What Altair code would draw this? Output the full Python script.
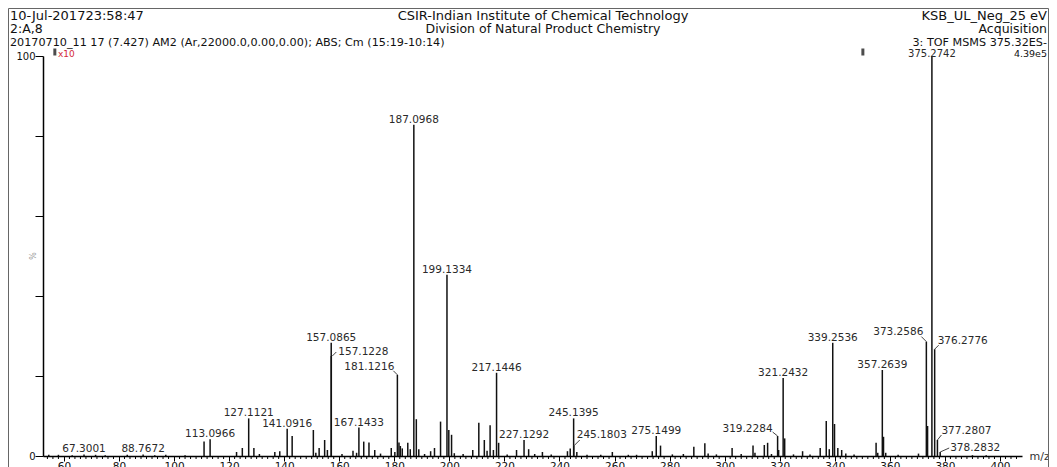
import altair as alt
import pandas as pd

# ---------------- data ----------------
LABELED_MZ = [67.3001, 88.7672, 113.0966, 127.1121, 141.0916, 157.0865, 157.1228, 167.1433,
              181.1216, 187.0968, 199.1334, 217.1446, 227.1292, 245.1395, 245.1803, 275.1499,
              319.2284, 321.2432, 339.2536, 357.2639, 373.2586, 375.2742, 376.2776, 377.2807,
              378.2832]
LABELED_INT = [0.4, 0.4, 4.2, 9.4, 6.8, 28.3, 25.0, 7.1,
               20.3, 82.8, 45.3, 20.8, 4.0, 9.4, 2.5, 5.0,
               5.0, 19.5, 28.3, 21.5, 28.6, 100.0, 26.7, 4.0,
               1.0]
LABEL_TEXT = ["67.3001", "88.7672", "113.0966", "127.1121", "141.0916", "157.0865", "157.1228",
              "167.1433", "181.1216", "187.0968", "199.1334", "217.1446", "227.1292", "245.1395",
              "245.1803", "275.1499", "319.2284", "321.2432", "339.2536", "357.2639", "373.2586",
              "375.2742", "376.2776", "377.2807", "378.2832"]

MINOR_MZ = [54.5, 58.0, 63.0, 71.5, 75.0, 83.0, 93.0, 97.0, 104.0,
            110.9, 122.7, 124.8, 129.0, 131.0, 136.6, 138.4, 142.9, 150.6, 151.5, 152.7,
            154.7, 155.7, 161.0, 165.0, 166.3, 168.9, 170.8, 172.9, 175.0, 178.9, 180.2,
            181.7, 182.2, 182.9, 184.9, 185.8, 188.0, 188.9, 191.0, 193.2, 194.6, 196.8,
            199.8, 200.8, 201.8, 205.0, 208.5, 210.7, 212.7, 213.7, 214.8, 216.0, 217.9,
            221.0, 224.4, 228.8, 231.0, 233.8, 237.0, 242.9, 243.9, 246.3, 250.0, 255.0,
            259.2, 265.0, 268.0, 273.7, 276.7, 281.0, 285.0, 288.8, 292.8, 294.0, 297.0,
            302.7, 306.0, 310.3, 311.0, 314.4, 315.6, 317.0, 319.6, 321.8, 325.0, 328.3,
            331.0, 334.7, 336.9, 338.0, 339.9, 341.1, 342.5, 344.0, 347.0, 355.0, 355.6,
            357.7, 358.5, 363.0, 370.4, 373.7, 390.0, 395.0]
MINOR_INT = [0.3, 0.3, 0.2, 0.3, 0.2, 0.3, 0.2, 0.3, 0.2,
             3.6, 1.0, 2.0, 2.0, 0.5, 1.0, 1.2, 5.0, 6.5, 0.8, 2.0,
             4.0, 1.5, 0.5, 1.3, 0.8, 3.6, 3.4, 1.5, 0.6, 2.0, 1.0,
             3.4, 2.5, 1.9, 3.3, 1.7, 9.2, 1.7, 0.5, 1.2, 2.0, 8.6,
             6.5, 5.3, 0.7, 0.5, 1.5, 8.3, 4.0, 1.3, 7.7, 1.5, 3.3,
             0.4, 1.5, 1.7, 0.5, 1.0, 0.4, 1.2, 1.9, 1.0, 0.3, 0.3,
             1.0, 0.3, 0.3, 1.2, 2.6, 0.4, 0.5, 2.3, 3.2, 0.6, 0.4,
             2.0, 0.5, 2.6, 0.8, 2.75, 3.3, 0.5, 1.5, 4.4, 0.4, 1.2,
             0.4, 2.0, 8.75, 1.7, 8.0, 2.0, 1.5, 0.6, 0.4, 3.3, 0.8,
             4.8, 0.8, 0.3, 0.6, 7.5, 0.2, 0.2]

MARKER_MZ = [56.7, 350.2]
MARKER_LEVEL = [101.0, 101.0]

X_MAJOR = list(range(60, 401, 20))
X_MINOR = [v for v in range(54, 408, 2) if v % 20 != 0]
Y_TICKS = list(range(0, 101, 10))

HEADER_LEFT = ["10-Jul-201723:58:47", "2:A,8",
               "20170710_11 17 (7.427) AM2 (Ar,22000.0,0.00,0.00); ABS; Cm (15:19-10:14)"]
HEADER_CENTER = ["CSIR-Indian Institute of Chemical Technology",
                 "Division of Natural Product Chemistry"]
HEADER_RIGHT = ["KSB_UL_Neg_25 eV", "Acquisition", "3: TOF MSMS 375.32ES-", "4.39e5"]
MAG_TEXT = "x10"
X_TITLE = "m/z"

# ---------------- styles ----------------
FONT = "DejaVu Sans"
W, H = 979, 400
PAD = {"left": 35, "top": 48, "right": 27, "bottom": 11}
RIGHT_EDGE = W + PAD["right"] - 2  # right-aligned header texts (plot coords)

# labels that use a leader line: align, dx, dy, leader (x0, y0, x1, y1)
LEADER_STYLE = {
    "157.1228": ("left", 7, -4, (1, 0, 5, -4)),
    "181.1216": ("right", -3, -8, (-4, -4, 0, 0)),
    "245.1803": ("left", 3, -11, (0, 0, 6, -6)),
    "319.2284": ("right", -5, -7, (-5, -4, 0, 0)),
    "373.2586": ("right", -3, -10, (-5, -5, 0, 0)),
    "376.2776": ("left", 3, -8, (0, 0, 4, -4)),
    "377.2807": ("left", 4, -9, (0, 0, 4, -5)),
    "378.2832": ("left", 10, -4, (0, 0, 9, -4)),
}
TOP_LABEL = "375.2742"

peaks = pd.DataFrame({
    "mz": LABELED_MZ + MINOR_MZ,
    "intensity": LABELED_INT + MINOR_INT,
})
labels = pd.DataFrame({"mz": LABELED_MZ, "intensity": LABELED_INT, "label": LABEL_TEXT})
markers = pd.DataFrame({"mz": MARKER_MZ, "intensity": MARKER_LEVEL})
minor_ticks = pd.DataFrame({"mz": X_MINOR})

xscale = alt.Scale(domain=[52.4, 408], nice=False, zero=False)
yscale = alt.Scale(domain=[0, 100], nice=False, zero=True)

x_axis = alt.Axis(
    values=X_MAJOR,
    tickSize=5, labelOverlap=False, labelFlush=False, labelBound=False,
    labelFont=FONT, labelFontSize=10.5, labelColor="#111", labelPadding=0,
    labelBaseline="top",
    domainColor="#000", domainWidth=1.5, tickColor="#000", tickWidth=1,
    grid=False,
    title=X_TITLE, titleX=W + 7, titleY=0, titleAlign="left", titleBaseline="middle",
    titleFont=FONT, titleFontSize=11, titleFontWeight="normal", titleColor="#333",
)
y_axis = alt.Axis(
    values=Y_TICKS,
    labelExpr="datum.value == 100 ? '100' : datum.value == 0 ? '0' : ''",
    tickSize=8, labelPadding=0, labelFont=FONT, labelFontSize=10, labelColor="#111",
    domainColor="#000", domainWidth=1.5, tickColor="#000", tickWidth=1,
    grid=False, title=None, labelOverlap=False,
)

X = alt.X("mz:Q", scale=xscale, axis=x_axis)
Y = alt.Y("intensity:Q", scale=yscale, axis=y_axis)

layers = []

# spectrum sticks
layers.append(
    alt.Chart(peaks).mark_rule(color="#111", strokeWidth=1.5).encode(
        x=X, y=Y, y2=alt.datum(0)
    )
)

# minor ticks of the m/z axis
layers.append(
    alt.Chart(minor_ticks).mark_rule(color="#000", strokeWidth=1).encode(
        x="mz:Q", y=alt.value(H), y2=alt.value(H + 3)
    )
)

# default centered labels
plain = labels[~labels["label"].isin(list(LEADER_STYLE.keys()) + [TOP_LABEL])]
layers.append(
    alt.Chart(plain).mark_text(font=FONT, fontSize=10.5, color="#2a2a2a",
                               baseline="middle", align="center", dy=-5).encode(
        x="mz:Q", y="intensity:Q", text="label:N"
    )
)
layers.append(
    alt.Chart(labels[labels["label"] == TOP_LABEL]).mark_text(
        font=FONT, fontSize=10, color="#2a2a2a", baseline="middle", align="center", dy=-2
    ).encode(x="mz:Q", y="intensity:Q", text="label:N")
)

# labels with leader lines
for lab, (align, dx, dy, (x0, y0, x1, y1)) in LEADER_STYLE.items():
    sub = labels[labels["label"] == lab]
    layers.append(
        alt.Chart(sub).mark_text(font=FONT, fontSize=10.5, color="#2a2a2a",
                                 baseline="middle", align=align, dx=dx, dy=dy).encode(
            x="mz:Q", y="intensity:Q", text="label:N"
        )
    )
    layers.append(
        alt.Chart(sub).mark_rule(color="#444", strokeWidth=1,
                                 xOffset=x0, yOffset=y0, x2Offset=x1, y2Offset=y1).encode(
            x="mz:Q", x2="mz:Q", y="intensity:Q", y2="intensity:Q"
        )
    )

# magnification markers
layers.append(
    alt.Chart(markers).mark_tick(color="#000", thickness=3, size=7, orient="vertical").encode(
        x="mz:Q", y="intensity:Q"
    )
)
# "%" label of the intensity axis
layers.append(
    alt.Chart(pd.DataFrame({"t": ["%"], "v": [50]})).mark_text(
        font=FONT, fontSize=8, color="#999", align="center", baseline="middle", angle=90
    ).encode(x=alt.value(-12), y=alt.Y("v:Q"), text="t:N")
)


def text_layer(txt, x, y, size, align="left", color="#111"):
    return alt.Chart(pd.DataFrame({"t": [txt]})).mark_text(
        font=FONT, fontSize=size, color=color, align=align, baseline="middle"
    ).encode(x=alt.value(x), y=alt.value(y), text="t:N")


layers.append(text_layer(MAG_TEXT, 15, -2.5, 9, color="#d42a3a"))

rows = [-40, -27, -13, -2]
S1, S2, S3 = 13.0, 12.5, 11.2
layers.append(text_layer(HEADER_LEFT[0], -33, rows[0], S1))
layers.append(text_layer(HEADER_LEFT[1], -33, rows[1], S2))
layers.append(text_layer(HEADER_LEFT[2], -33, rows[2], S3))
layers.append(text_layer(HEADER_CENTER[0], 500, rows[0], S1, align="center"))
layers.append(text_layer(HEADER_CENTER[1], 500, rows[1], S2, align="center"))
layers.append(text_layer(HEADER_RIGHT[0], RIGHT_EDGE, rows[0], S1, align="right"))
layers.append(text_layer(HEADER_RIGHT[1], RIGHT_EDGE, rows[1], S2, align="right"))
layers.append(text_layer(HEADER_RIGHT[2], RIGHT_EDGE, rows[2], S3, align="right"))
layers.append(text_layer(HEADER_RIGHT[3], RIGHT_EDGE, rows[3], 9.5, align="right"))

# outer frame
frame_df = pd.DataFrame({"k": [0]})
frame_style = dict(color="#666", strokeWidth=1)
FL, FR, FT = -34.5, W + PAD["right"] - 0.5, -47.5
layers.append(alt.Chart(frame_df).mark_rule(**frame_style).encode(
    x=alt.value(FL), y=alt.value(FT), y2=alt.value(H + PAD["bottom"])))
layers.append(alt.Chart(frame_df).mark_rule(**frame_style).encode(
    x=alt.value(FR), y=alt.value(FT), y2=alt.value(H + PAD["bottom"])))
layers.append(alt.Chart(frame_df).mark_rule(**frame_style).encode(
    x=alt.value(FL), x2=alt.value(FR), y=alt.value(FT)))

chart = alt.layer(*layers).properties(
    width=W, height=H,
    autosize=alt.AutoSizeParams(type="none"),
    padding=PAD,
    background="white",
).configure_view(stroke=None)

chart.save("out.html", embed_options={"renderer": "svg", "actions": False})
